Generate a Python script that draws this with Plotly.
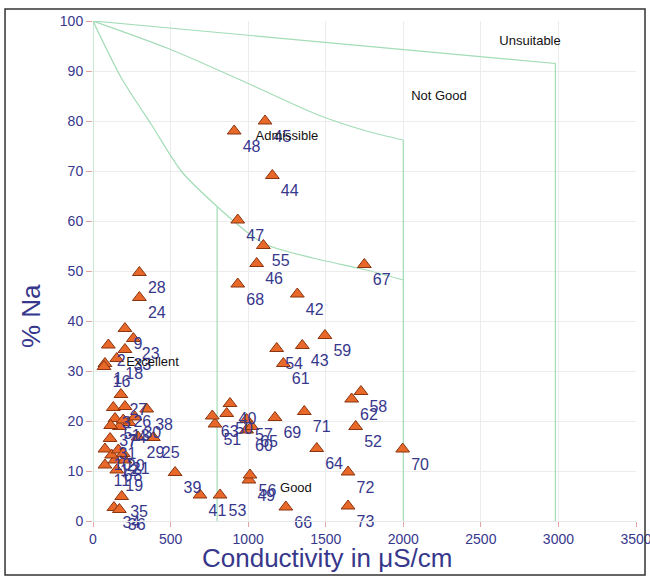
import plotly.graph_objects as go

# ---- sample data (Conductivity µS/cm, % Na) ----
sample_ids = [1, 2, 3, 4, 5, 6, 7, 8, 9, 10, 11, 12, 13, 16, 18, 19, 20, 21, 23, 24,
              25, 26, 27, 28, 29, 30, 31, 33, 34, 35, 36, 37, 38, 39, 40, 41, 42, 43, 44, 45,
              46, 47, 48, 49, 50, 51, 52, 53, 54, 55, 56, 57, 58, 59, 60, 61, 62, 63, 64, 65,
              66, 67, 68, 69, 70, 71, 72, 73]
conductivity = [77, 99, 131, 232, 142, 142, 170, 206, 206, 77, 77, 120, 195, 71, 153, 153, 163, 195, 260, 299,
                389, 206, 180, 299, 290, 270, 110, 206, 135, 185, 170, 114, 346, 529, 883, 690, 1317, 1349, 1156, 1109,
                1055, 933, 910, 1005, 862, 786, 1693, 819, 1184, 1098, 1012, 990, 1727, 1495, 990, 1227, 1667, 769, 1442, 1023,
                1243, 1749, 933, 1173, 1996, 1362, 1644, 1644]
percent_na = [31.5, 35.2, 22.7, 19.7, 20.5, 12.2, 18.9, 12.2, 38.5, 14.4, 11.2, 13.2, 20.2, 30.9, 32.5, 10.2, 14.2, 13.5, 36.5, 44.7,
              16.7, 22.9, 25.3, 49.7, 16.8, 20.8, 16.5, 34.3, 2.7, 4.9, 2.3, 19.1, 22.4, 9.7, 23.5, 5.2, 45.4, 35.1, 69.1, 80.0,
              51.5, 60.2, 78.0, 8.2, 21.5, 19.4, 18.9, 5.2, 34.5, 55.1, 9.2, 20.3, 25.9, 37.1, 18.2, 31.5, 24.4, 21.0, 14.5, 18.9,
              2.8, 51.3, 47.4, 20.7, 14.4, 21.9, 9.8, 3.0]

# ---- Wilcox diagram class boundaries ----
axis_line_x = [0, 0]
axis_line_y = [0, 100]
excellent_curve_x = [0, 185, 378, 571, 800]
excellent_curve_y = [100, 88.5, 79.2, 69.9, 62.9]
excellent_edge_x = [800, 800]
excellent_edge_y = [62.9, 0]
good_curve_x = [800, 1095, 1418, 1763, 2000]
good_curve_y = [62.9, 55.6, 52.6, 50.2, 48.2]
permissible_curve_x = [0, 485, 1001, 1452, 1774, 2000]
permissible_curve_y = [100, 94.5, 87.5, 81.2, 77.9, 76.2]
permissible_edge_x = [2000, 2000]
permissible_edge_y = [76.2, 0]
doubtful_x = [0, 2980, 2980]
doubtful_y = [100, 91.5, 0]

class_names = ["Unsuitable", "Not Good", "Admissible", "Excellent", "Good"]
class_x = [2817, 2230, 1250, 384, 1308]
class_y = [95.8, 84.8, 76.9, 31.7, 6.5]

x_ticks = [0, 500, 1000, 1500, 2000, 2500, 3000, 3500]
y_ticks = [0, 10, 20, 30, 40, 50, 60, 70, 80, 90, 100]

FONT = "Arial, Liberation Sans, sans-serif"
NAVY = "#37378c"
GREEN = "#a3dcb7"

fig = go.Figure()
boundaries = [
    (axis_line_x, axis_line_y, "linear"),
    (excellent_curve_x, excellent_curve_y, "spline"),
    (excellent_edge_x, excellent_edge_y, "linear"),
    (good_curve_x, good_curve_y, "spline"),
    (permissible_curve_x, permissible_curve_y, "spline"),
    (permissible_edge_x, permissible_edge_y, "linear"),
    (doubtful_x, doubtful_y, "linear"),
]
for bx, by, shape in boundaries:
    fig.add_trace(go.Scatter(x=bx, y=by, mode="lines",
                             line=dict(color=GREEN, width=1.2, shape=shape, smoothing=0.8),
                             hoverinfo="skip", showlegend=False, cliponaxis=False))

fig.add_trace(go.Scatter(
    x=conductivity, y=percent_na, mode="markers+text",
    text=[str(i) for i in sample_ids], textposition="bottom right",
    textfont=dict(family=FONT, size=16, color=NAVY),
    marker=dict(symbol="triangle-up", size=12, color="#e8682a",
                line=dict(color="#8a3510", width=1)),
    showlegend=False, cliponaxis=False))

fig.add_trace(go.Scatter(
    x=class_x, y=class_y, mode="text", text=class_names, textposition="middle center",
    textfont=dict(family=FONT, size=13, color="#111111"),
    showlegend=False, hoverinfo="skip", cliponaxis=False))

fig.update_layout(
    width=650, height=578,
    margin=dict(l=93, r=14, t=21, b=57),
    paper_bgcolor="white", plot_bgcolor="white",
    font=dict(family=FONT, color=NAVY),
    xaxis=dict(range=[0, 3500], tickvals=x_ticks, ticktext=[str(v) for v in x_ticks],
               showgrid=True, gridcolor="#ececec", gridwidth=1, zeroline=False,
               showline=True, linecolor="#e6e6e6", linewidth=1,
               ticks="outside", ticklen=5, tickcolor="#e3a3a3",
               ticklabeloverflow="allow", automargin=False,
               tickfont=dict(family=FONT, size=14, color=NAVY)),
    yaxis=dict(range=[0, 100], tickvals=y_ticks, ticktext=[str(v) for v in y_ticks],
               showgrid=True, gridcolor="#ececec", gridwidth=1, zeroline=False,
               showline=False, automargin=False,
               ticks="outside", ticklen=6, tickcolor="#e3a3a3",
               tickfont=dict(family=FONT, size=14, color=NAVY)),
    annotations=[
        dict(text="Conductivity in μS/cm", xref="paper", yref="paper", x=0.431, y=-0.074,
             showarrow=False, font=dict(family=FONT, size=26, color=NAVY),
             xanchor="center", yanchor="middle"),
        dict(text="% Na", xref="paper", yref="paper", x=-0.114, y=0.41, textangle=-90,
             showarrow=False, font=dict(family=FONT, size=26, color=NAVY),
             xanchor="center", yanchor="middle"),
    ],
    shapes=[dict(type="rect", xref="paper", yref="paper", x0=-0.162, x1=1.0166, y0=-0.108, y1=1.024,
                 line=dict(color="#333333", width=1.5), layer="above")],
)

fig.write_html("out.html", config={"displayModeBar": False},
               post_script="document.body.style.margin='0';document.body.style.overflow='hidden';")
